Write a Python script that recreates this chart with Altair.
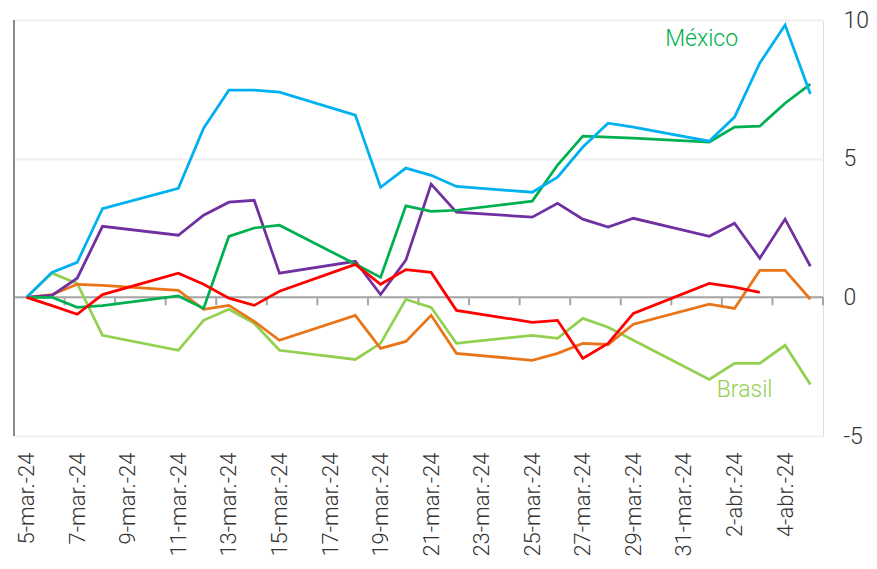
import altair as alt
import pandas as pd

# ---- data ----
dates = ["2024-03-05", "2024-03-06", "2024-03-07", "2024-03-08", "2024-03-11",
         "2024-03-12", "2024-03-13", "2024-03-14", "2024-03-15", "2024-03-18",
         "2024-03-19", "2024-03-20", "2024-03-21", "2024-03-22", "2024-03-25",
         "2024-03-26", "2024-03-27", "2024-03-28", "2024-03-29", "2024-04-01",
         "2024-04-02", "2024-04-03", "2024-04-04", "2024-04-05"]

azul = [0, 0.9, 1.26, 3.2, 3.93, 6.1, 7.47, 7.47, 7.4, 6.57, 3.97, 4.66, 4.4, 4.0,
        3.79, 4.33, 5.42, 6.28, 6.14, 5.63, 6.5, 8.45, 9.82, 7.33]
mexico = [0, 0.0, -0.36, -0.3, 0.05, -0.4, 2.2, 2.5, 2.6, 1.2, 0.72, 3.3, 3.1, 3.14,
          3.47, 4.77, 5.81, 5.78, 5.74, 5.6, 6.14, 6.17, 7.0, 7.69]
morado = [0, 0.07, 0.69, 2.56, 2.24, 2.96, 3.43, 3.5, 0.87, 1.3, 0.1, 1.34, 4.08, 3.07,
          2.89, 3.39, 2.82, 2.53, 2.85, 2.2, 2.67, 1.41, 2.82, 1.12]
rojo = [0, -0.3, -0.61, 0.1, 0.87, 0.47, -0.03, -0.29, 0.22, 1.19, 0.47, 1.0, 0.9, -0.47,
        -0.9, -0.83, -2.2, -1.66, -0.58, 0.5, 0.37, 0.18, None, None]
naranja = [0, 0.1, 0.47, 0.43, 0.25, -0.43, -0.29, -0.87, -1.55, -0.65, -1.84, -1.59, -0.65,
           -2.02, -2.27, -2.02, -1.66, -1.7, -0.97, -0.25, -0.4, 0.97, 0.97, -0.07]
brasil = [0, 0.87, 0.5, -1.37, -1.91, -0.83, -0.43, -0.94, -1.91, -2.24, -1.66, -0.07, -0.36,
          -1.66, -1.37, -1.48, -0.76, -1.08, -1.55, -2.96, -2.38, -2.38, -1.73, -3.14]

series_names = ["Brasil", "Naranja", "Morado", "México", "Azul", "Rojo"]
series_values = [brasil, naranja, morado, mexico, azul, rojo]
series_colors = ["#92D050", "#E97518", "#7030A0", "#00B050", "#00B0F0", "#FF0000"]

x_labels = ["5-mar.-24", "7-mar.-24", "9-mar.-24", "11-mar.-24", "13-mar.-24",
            "15-mar.-24", "17-mar.-24", "19-mar.-24", "21-mar.-24", "23-mar.-24",
            "25-mar.-24", "27-mar.-24", "29-mar.-24", "31-mar.-24", "2-abr.-24",
            "4-abr.-24"]
y_ticks = [-5, 0, 5, 10]

annot_names = ["México", "Brasil"]
annot_day = [26.7, 28.4]
annot_value = [9.3, -3.35]

# ---- build tables ----
start = pd.Timestamp(dates[0])
day_index = [(pd.Timestamp(d) - start).days for d in dates]

rows = []
for name, vals in zip(series_names, series_values):
    for d, v in zip(day_index, vals):
        rows.append({"serie": name, "day": d, "value": v})
df = pd.DataFrame(rows)

n_days = day_index[-1]
x_domain = [-0.5, n_days + 0.5]
tick_df = pd.DataFrame({"day": [x_domain[0] + 2 * k for k in range(int((n_days + 1) / 2) + 1)]})
annot_df = pd.DataFrame({"serie": annot_names, "day": annot_day, "value": annot_value})

FONT = "Roboto"
label_js = "[" + ",".join("'" + s + "'" for s in x_labels) + "]"

x_scale = alt.Scale(domain=x_domain, nice=False, zero=False)
y_scale = alt.Scale(domain=[-5, 10], nice=False, zero=False)
color_scale = alt.Scale(domain=series_names, range=series_colors)

x_axis = alt.Axis(values=list(range(0, 31, 2)), labelExpr=label_js + "[round(datum.value/2)]",
                  labelAngle=-90, labelFontSize=22, labelFont=FONT, labelFontWeight=300,
                  labelColor="#333333", domain=False, ticks=False, grid=False,
                  labelPadding=16, title=None, labelOverlap=False)
y_axis = alt.Axis(orient="right", values=y_ticks, grid=True, gridColor="#efefef",
                  gridWidth=2, domain=False, ticks=False, labelPadding=20,
                  labelExpr="datum.value < 0 ? '-' + abs(datum.value) : '' + datum.value",
                  labelFontSize=23, labelFont=FONT, labelFontWeight=300,
                  labelColor="#333333", labelAlign="left", title=None)

lines = alt.Chart(df).mark_line(strokeWidth=2.75, strokeJoin="miter").encode(
    x=alt.X("day:Q", scale=x_scale, axis=x_axis),
    y=alt.Y("value:Q", scale=y_scale, axis=y_axis),
    color=alt.Color("serie:N", scale=color_scale, legend=None),
    detail="serie:N",
)

zero_line = alt.Chart(pd.DataFrame({"v": [0]})).mark_rule(color="#a6a6a6", strokeWidth=2).encode(
    y=alt.Y("v:Q", scale=y_scale, axis=y_axis)
)

ticks = alt.Chart(tick_df).mark_rule(color="#a6a6a6", strokeWidth=2, y2Offset=8).encode(
    x=alt.X("day:Q", scale=x_scale, axis=x_axis),
    y=alt.datum(0),
    y2=alt.datum(0),
)

left_axis = alt.Chart(pd.DataFrame({"day": [x_domain[0]]})).mark_rule(color="#8c8c8c", strokeWidth=2).encode(
    x=alt.X("day:Q", scale=x_scale, axis=x_axis),
    y=alt.datum(-5),
    y2=alt.datum(10),
)

texts = alt.Chart(annot_df).mark_text(fontSize=23, font=FONT, fontWeight=300).encode(
    x=alt.X("day:Q", scale=x_scale, axis=x_axis),
    y=alt.Y("value:Q", scale=y_scale, axis=y_axis),
    text="serie:N",
    color=alt.Color("serie:N", scale=color_scale, legend=None),
)

chart = alt.layer(zero_line, ticks, left_axis, lines, texts).properties(
    width=809, height=416,
    autosize=alt.AutoSizeParams(type="none"),
    padding={"left": 6, "top": 12, "right": 46, "bottom": 125},
).configure_view(stroke=None).configure(background="white")

chart.save("out.html", embed_options={"renderer": "svg", "actions": False})
